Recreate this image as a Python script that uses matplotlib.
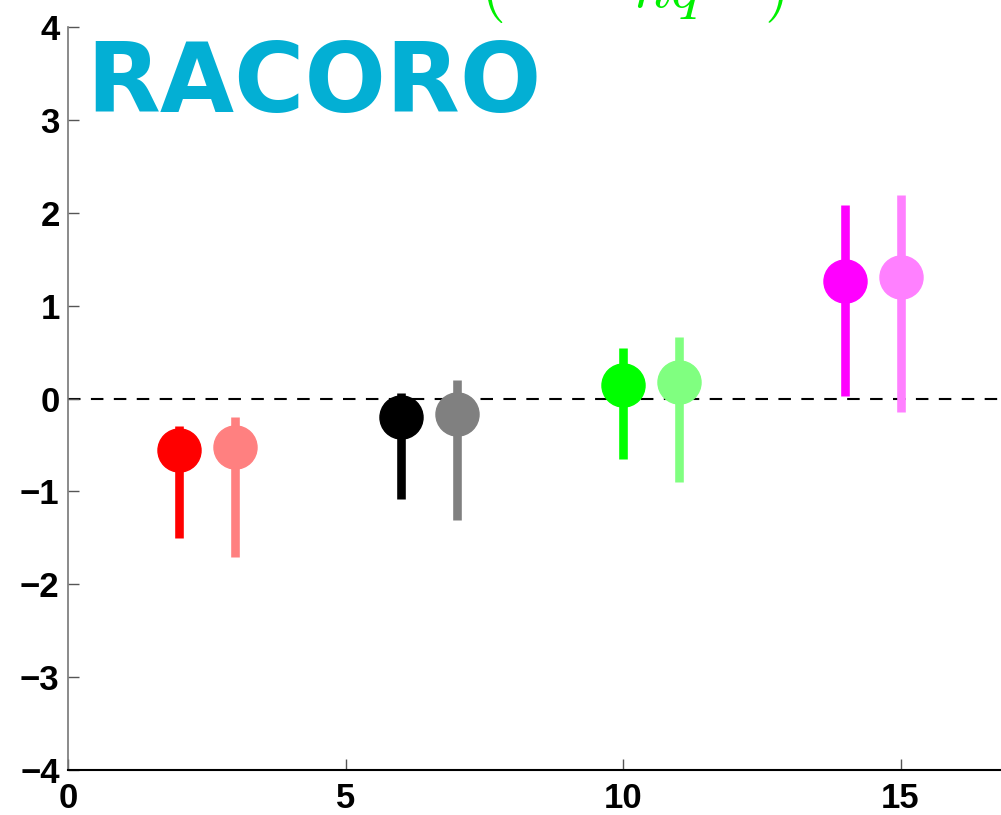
import matplotlib
matplotlib.use("Agg")
import matplotlib.pyplot as plt
import numpy as np

# Paired estimates: central value with lower / upper bounds
positions = [2, 3, 6, 7, 10, 11, 14, 15]
centers = [-0.55, -0.52, -0.20, -0.17, 0.15, 0.18, 1.27, 1.31]
lower = [-1.50, -1.71, -1.08, -1.31, -0.65, -0.90, 0.03, -0.15]
upper = [-0.30, -0.20, 0.06, 0.20, 0.54, 0.66, 2.08, 2.19]
colors = ["#FF0000", "#FF8080", "#000000", "#808080",
          "#00FF00", "#80FF80", "#FF00FF", "#FF80FF"]

x_ticks = [0, 5, 10, 15]
y_ticks = [-4, -3, -2, -1, 0, 1, 2, 3, 4]
label_text = "RACORO"

plt.rcParams["mathtext.fontset"] = "cm"
tick_family = ["Liberation Sans", "DejaVu Sans"]

W, H = 1001, 815
fig = plt.figure(figsize=(W / 100, H / 100), dpi=100)
ax = fig.add_axes([68 / W, (H - 770) / H, (W - 68) / W, (770 - 27) / H])

ax.axhline(0, color="black", lw=1.5, dashes=(6, 5), zorder=1)

for xp, c, lo, hi, col in zip(positions, centers, lower, upper, colors):
    ax.vlines(xp, lo, hi, color=col, lw=6.2, zorder=2)
    ax.plot([xp], [c], "o", ms=31, color=col, mec=col, zorder=3)

ax.set_xlim(0, (W - 68) / 55.5)
ax.set_ylim(-4, 4)
ax.set_xticks(x_ticks)
ax.set_yticks(y_ticks)
ax.tick_params(direction="in", length=8, width=1, colors="#555555",
               labelcolor="black")
ax.tick_params(axis="x", pad=9)
ax.tick_params(axis="y", pad=6)
for lab in ax.get_xticklabels() + ax.get_yticklabels():
    lab.set_family(tick_family)
    lab.set_fontweight("bold")
    lab.set_fontsize(25)

ax.spines["top"].set_visible(False)
ax.spines["right"].set_visible(False)
ax.spines["left"].set_color("#777777")
ax.spines["left"].set_linewidth(1.2)
ax.spines["bottom"].set_color("black")
ax.spines["bottom"].set_linewidth(1.5)

fig.text(86 / W, (H - 112) / H, label_text, color="#03AFD4",
         fontsize=69, fontweight="bold", family=["DejaVu Sans"],
         va="baseline", ha="left")

fig.text(480 / W, (H - 8) / H, r"$(\qquad\;nq^{-1})$", color="#00F000",
         fontsize=46, va="baseline", ha="left")

fig.savefig("out.png", dpi=100)
